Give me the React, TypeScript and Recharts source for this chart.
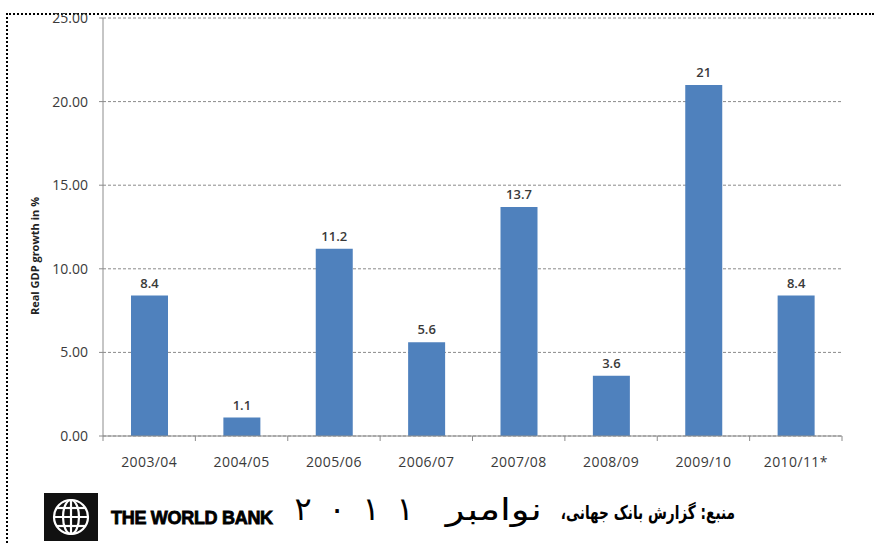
import { BarChart, Bar, XAxis, YAxis, CartesianGrid, LabelList } from 'recharts';

const years = ['2003/04', '2004/05', '2005/06', '2006/07', '2007/08', '2008/09', '2009/10', '2010/11*'];
const growth = [8.4, 1.1, 11.2, 5.6, 13.7, 3.6, 21, 8.4];
const yTicks = [0, 5, 10, 15, 20, 25];
const yTitle = 'Real GDP growth in %';
const bankName = 'THE WORLD BANK';
const sourceText = 'منبع: گزارش بانک جهانی،';
const monthText = 'نوامبر';
const yearDigits = ['۲', '۰', '۱', '۱'];

const data = years.map((year, i) => ({ year, growth: growth[i] }));

const font = '"Open Sans", sans-serif';

// category ticks sit between the bars, text in the middle
const XTick = (props: any) => {
  const { x, y, payload, index } = props;
  const half = payload && payload.offset ? payload.offset : 46.2;
  return (
    <g>
      <line x1={x - half} x2={x - half} y1={y} y2={y + 5} stroke="#8c8c8c" />
      {index === years.length - 1 && (
        <line x1={x + half} x2={x + half} y1={y} y2={y + 5} stroke="#8c8c8c" />
      )}
      <text x={x} y={y + 31} textAnchor="middle" fill="#3a3a3a" fontSize={14} fontFamily={font} letterSpacing={0.4}>
        {payload.value}
      </text>
    </g>
  );
};

const YTitle = () => (
  <text
    x={39}
    y={256}
    transform="rotate(-90 39 256)"
    textAnchor="middle"
    fill="#222"
    fontSize={11}
    fontWeight={700}
    fontFamily={font}
  >
    {yTitle}
  </text>
);

const Logo = () => (
  <svg width={54} height={48} style={{ position: 'absolute', left: 44, top: 493 }}>
    <rect width={54} height={48} fill="#111" />
    <g fill="none" stroke="#fff" strokeWidth={2.2}>
      <circle cx={27} cy={24} r={17} />
      <ellipse cx={27} cy={24} rx={8} ry={17} />
      <line x1={27} y1={7} x2={27} y2={41} />
      <line x1={10} y1={24} x2={44} y2={24} />
      <line x1={13} y1={15} x2={41} y2={15} />
      <line x1={13} y1={33} x2={41} y2={33} />
    </g>
  </svg>
);

export default function App() {
  return (
    <div style={{ position: 'absolute', left: 0, top: 0, width: 877, height: 544, background: '#fff', overflow: 'hidden' }}>
      <div
        style={{
          position: 'absolute',
          left: 6,
          top: 13,
          width: 866,
          height: 540,
          borderTop: '2px dotted #000',
          borderLeft: '2px dotted #000',
        }}
      />
      <div style={{ position: 'absolute', left: 0, top: 0 }}>
        <BarChart width={877} height={480} data={data} margin={{ top: 18, right: 35, left: 0, bottom: 0 }} barSize={37}>
          <CartesianGrid vertical={false} stroke="#8a8a8a" strokeDasharray="3 2" />
          <XAxis
            dataKey="year"
            height={44}
            axisLine={{ stroke: '#8c8c8c' }}
            tickLine={false}
            tickSize={0}
            tickMargin={0}
            interval={0}
            tick={<XTick />}
          />
          <YAxis
            width={103}
            domain={[0, 25]}
            ticks={yTicks}
            interval={0}
            axisLine={{ stroke: '#8c8c8c' }}
            tickLine={{ stroke: '#8c8c8c' }}
            tickSize={4}
            tickMargin={11}
            tickFormatter={(v: number) => v.toFixed(2)}
            tick={{ fill: '#3a3a3a', fontSize: 14, fontFamily: font }}
          />
          <Bar dataKey="growth" fill="#4F81BD" isAnimationActive={false}>
            <LabelList
              dataKey="growth"
              position="top"
              offset={8}
              fill="#3a3a3a"
              fontSize={13}
              fontWeight={600}
              fontFamily={font}
            />
          </Bar>
          <YTitle />
        </BarChart>
      </div>
      <Logo />
      <div
        style={{
          position: 'absolute',
          left: 111,
          top: 508,
          fontFamily: '"Liberation Sans", Arial, sans-serif',
          fontWeight: 700,
          fontSize: 18,
          letterSpacing: -0.3,
          WebkitTextStroke: '0.8px #000',
          color: '#000',
          whiteSpace: 'nowrap',
        }}
      >
        {bankName}
      </div>
      {/* Persian source line: bold source, large month, spaced year digits */}
      <div
        dir="rtl"
        style={{
          position: 'absolute',
          right: 142,
          top: 501,
          fontFamily: '"DejaVu Sans", sans-serif',
          fontSize: 19,
          fontWeight: 700,
          color: '#000',
          whiteSpace: 'nowrap',
          transform: 'scaleX(0.72)',
          transformOrigin: 'right center',
        }}
      >
        {sourceText}
      </div>
      <div
        dir="rtl"
        style={{
          position: 'absolute',
          right: 877 - 542,
          top: 492,
          fontFamily: '"DejaVu Sans", sans-serif',
          fontSize: 30,
          fontWeight: 400,
          color: '#000',
          whiteSpace: 'nowrap',
          transform: 'scaleX(1.3)',
          transformOrigin: 'right center',
        }}
      >
        {monthText}
      </div>
      <div
        style={{
          position: 'absolute',
          left: 286,
          top: 490,
          display: 'flex',
          fontFamily: '"DejaVu Sans", sans-serif',
          fontSize: 32,
          color: '#000',
        }}
      >
        {yearDigits.map((d, i) => (
          <span key={i} style={{ width: 34, textAlign: 'center' }}>
            {d}
          </span>
        ))}
      </div>
    </div>
  );
}
